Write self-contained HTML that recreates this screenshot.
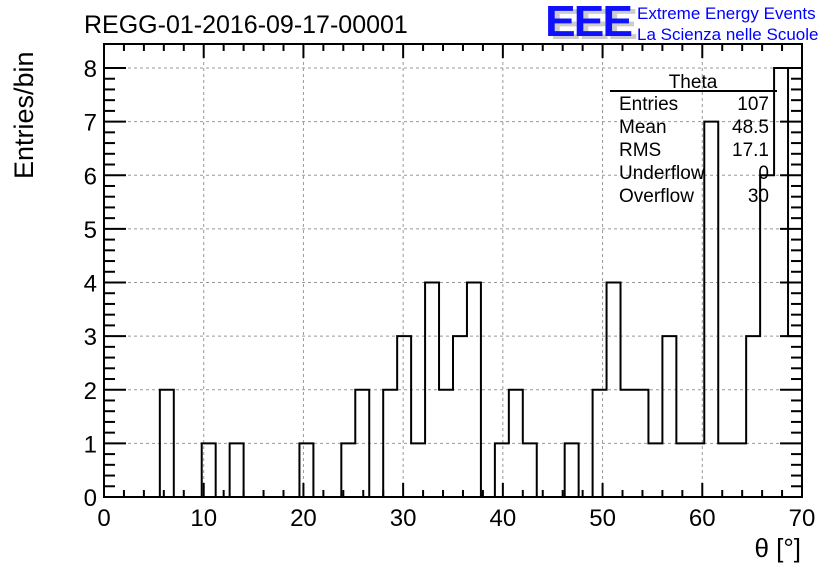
<!DOCTYPE html>
<html><head><meta charset="utf-8"><style>
body{margin:0;background:#fff;}
svg{display:block;font-family:"Liberation Sans",sans-serif;}
</style></head><body>
<svg id="c" width="836" height="572">
<text x="84" y="33" font-size="25">REGG-01-2016-09-17-00001</text>
<g>
<text x="550" y="39" font-size="46" fill="#ccc" font-weight="bold" letter-spacing="-2" transform="translate(550,39) scale(1,0.95) translate(-550,-39)">EEE</text>
<text x="545" y="36" font-size="46" fill="#1010ff" font-weight="bold" letter-spacing="-2" transform="translate(545,36) scale(1,0.95) translate(-545,-36)">EEE</text>
</g>
<text x="637" y="19" font-size="17" fill="#0000ff">Extreme Energy Events</text>
<text x="637" y="40" font-size="17" fill="#0000ff">La Scienza nelle Scuole</text>
<g id="grid"></g>
<g id="ticks"></g>
<path id="hist" fill="none" stroke="#000" stroke-width="2"/>
<rect x="104" y="44" width="698" height="453" fill="none" stroke="#000" stroke-width="2"/>
<g font-size="19">
<text x="693" y="88" text-anchor="middle">Theta</text>
<line x1="610" y1="91" x2="777" y2="91" stroke="#000" stroke-width="2"/>
<text x="619" y="110">Entries</text><text x="769" y="110" text-anchor="end">107</text>
<text x="619" y="133">Mean</text><text x="769" y="133" text-anchor="end">48.5</text>
<text x="619" y="156">RMS</text><text x="769" y="156" text-anchor="end">17.1</text>
<text x="619" y="179">Underflow</text><text x="769" y="179" text-anchor="end">0</text>
<text x="619" y="202">Overflow</text><text x="769" y="202" text-anchor="end">30</text>
</g>
<text x="801" y="557" font-size="26" text-anchor="end">θ [°]</text>
<text transform="translate(33,179) rotate(-90)" font-size="27">Entries/bin</text>
</svg>
<script>
const counts=[0,0,0,0,2,0,0,1,0,1,0,0,0,0,1,0,0,1,2,0,2,3,1,4,2,3,4,0,1,2,1,0,0,1,0,2,4,2,2,1,3,1,1,7,1,1,3,6,8,3];
const xTicks=[0,10,20,30,40,50,60,70];
const yTicks=[0,1,2,3,4,5,6,7,8];
const xMin=0,xMax=70,yMin=0,yMax=8;
const L=104,R=802,B=497,T=68;
const sx=v=>L+(v-xMin)/(xMax-xMin)*(R-L);
const sy=v=>B-(v-yMin)/(yMax-yMin)*(B-T);
const NS="http://www.w3.org/2000/svg";
const grid=document.getElementById('grid'),ticks=document.getElementById('ticks');
function mk(tag,attrs,parent){const e=document.createElementNS(NS,tag);for(const k in attrs)e.setAttribute(k,attrs[k]);parent.appendChild(e);return e;}
xTicks.forEach(v=>{
 if(v>xMin&&v<xMax){const g=mk('line',{x1:sx(v),x2:sx(v),y1:44,y2:B,stroke:'#999','stroke-dasharray':'3,3'},grid);
 
 }
 const t=mk('line',{x1:sx(v),x2:sx(v),y1:B,y2:B-14,stroke:'#000','stroke-width':2},ticks);
 
 
 const t2=mk('line',{x1:sx(v),x2:sx(v),y1:44,y2:58,stroke:'#000','stroke-width':2},ticks);
 
 
 const lb=mk('text',{x:sx(v),y:526,'font-size':24,'text-anchor':'middle'},ticks);lb.textContent=v;
 
 
});
for(let v=xMin;v<=xMax;v+=2){if(v%10===0)continue;
 mk('line',{x1:sx(v),x2:sx(v),y1:B,y2:B-7,stroke:'#000','stroke-width':2},ticks);
 mk('line',{x1:sx(v),x2:sx(v),y1:44,y2:51,stroke:'#000','stroke-width':2},ticks);}
yTicks.forEach(v=>{
 if(v>yMin){const g=mk('line',{x1:L,x2:R,y1:sy(v),y2:sy(v),stroke:'#999','stroke-dasharray':'3,3'},grid);
 
 }
 const t=mk('line',{x1:L,x2:L+22,y1:sy(v),y2:sy(v),stroke:'#000','stroke-width':2},ticks);
 
 
 mk('line',{x1:R,x2:R-22,y1:sy(v),y2:sy(v),stroke:'#000','stroke-width':2},ticks);
 const lb=mk('text',{x:97,y:sy(v)+9,'font-size':24,'text-anchor':'end'},ticks);lb.textContent=v;
 
 
});
for(let v=yMin;v<yMax;v+=0.2){const r=Math.round(v*10)/10;if(Math.abs(r-Math.round(r))<1e-6)continue;
 mk('line',{x1:L,x2:L+11,y1:sy(r),y2:sy(r),stroke:'#000','stroke-width':2},ticks);
 mk('line',{x1:R,x2:R-11,y1:sy(r),y2:sy(r),stroke:'#000','stroke-width':2},ticks);}
const w=(xMax-xMin)/counts.length;
let d='M'+sx(xMin)+','+sy(counts[0]);
counts.forEach((c,i)=>{d+=' L'+sx(xMin+i*w)+','+sy(c)+' L'+sx(xMin+(i+1)*w)+','+sy(c);});
document.getElementById('hist').setAttribute('d',d);
</script>
</body></html>
